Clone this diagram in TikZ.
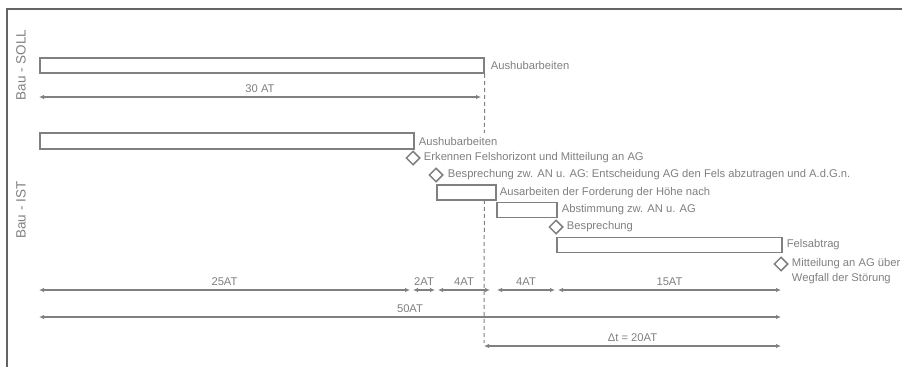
\documentclass[tikz,border=0pt]{standalone}
\usepackage{fontspec}
\setmainfont{Liberation Sans}
\usetikzlibrary{shapes.geometric,arrows.meta,positioning}
\definecolor{plangray}{RGB}{128,128,128}
\definecolor{framegray}{RGB}{100,100,100}
\tikzset{
	barbox/.style={rectangle, draw=plangray, line width=1.6pt, fill=white, inner sep=0pt,
		minimum height=15pt},
	msdiam/.style={diamond, draw=plangray, line width=1.5pt, fill=white, inner sep=0pt,
		minimum width=14pt, minimum height=14pt},
	lbl/.style={text=plangray, font=\fontsize{11.2}{15}\selectfont, inner sep=1pt},
	barlbl/.style={lbl, fill=white, minimum height=17pt},
	axislbl/.style={lbl, rotate=90, font=\fontsize{13.5}{16}\selectfont},
	dimarr/.style={{Latex[length=5pt,width=4.5pt]}-{Latex[length=5pt,width=4.5pt]}, draw=plangray, line width=1.5pt},
	dimlbl/.style={lbl, above=2.5pt}
}

\begin{document}
\begin{tikzpicture}[x=1pt, y=-1pt, node distance=3pt]
			\useasboundingbox (0,0) rectangle (902,367);
			\draw[framegray, line width=2pt] (902,9) -- (7,9) -- (7,367);
			\node[axislbl] (sollaxis) at (21,65) {Bau - SOLL};
			\node[axislbl] (istaxis) at (21,210) {Bau - IST};
			% Soll
			\node[barbox, minimum width=444pt, anchor=west] (sollbar) at (39,65.5) {};
			\node[lbl, right=5pt of sollbar] (solltxt) {Aushubarbeiten};
			\coordinate (s0) at (39,97);
			\coordinate (s1) at (481,97);
			\draw[dimarr] (s0) -- node[dimlbl] {30 AT} (s1);
			\coordinate (dashend) at (484,343);
			\draw[plangray, line width=1pt, dash pattern=on 4pt off 3pt] (sollbar.south east) -- (dashend);
			% Ist
			\node[barbox, minimum width=374pt, minimum height=16pt, anchor=west] (istbar1) at (39,141) {};
			\node[barlbl, right=3pt of istbar1] (ist1txt) {Aushubarbeiten};
			\node[msdiam] (ms1) at (413,158) {};
			\node[barlbl, right=2pt of ms1] (ms1txt) {Erkennen Felshorizont und Mitteilung an AG};
			\node[msdiam] (ms2) at (436,175) {};
			\node[barlbl, right=3pt of ms2] (ms2txt) {Besprechung zw. AN u. AG: Entscheidung AG den Fels abzutragen und A.d.G.n.};
			\node[barbox, minimum width=59pt, anchor=west] (istbar2) at (436,192.5) {};
			\node[barlbl, right=2pt of istbar2] (ist2txt) {Ausarbeiten der Forderung der Höhe nach};
			\node[barbox, minimum width=60pt, anchor=west] (istbar3) at (496,210) {};
			\node[barlbl, right=3pt of istbar3] (ist3txt) {Abstimmung zw. AN u. AG};
			\node[msdiam] (ms3) at (556,227) {};
			\node[barlbl, right=2pt of ms3] (ms3txt) {Besprechung};
			\node[barbox, minimum width=225pt, anchor=west] (istbar4) at (556,245) {};
			\node[barlbl, right=3pt of istbar4] (ist4txt) {Felsabtrag};
			\node[msdiam] (ms4) at (781,264) {};
			\node[lbl, align=left, anchor=north west] (ms4txt) at ([xshift=2pt, yshift=6.5pt]ms4.east) {Mitteilung an AG über\\Wegfall der Störung};
			% Dauer
			\coordinate (d0) at (39,290);
			\coordinate (d1) at (410,290);
			\coordinate (d2) at (413,290);
			\coordinate (d3) at (435,290);
			\coordinate (d4) at (438,290);
			\coordinate (d5) at (490,290);
			\coordinate (d6) at (497,290);
			\coordinate (d7) at (555,290);
			\coordinate (d8) at (558,290);
			\coordinate (d9) at (781,290);
			\draw[dimarr] (d0) -- node[dimlbl] {25AT} (d1);
			\draw[dimarr] (d2) -- node[dimlbl] {2AT} (d3);
			\draw[dimarr] (d4) -- node[dimlbl] {4AT} (d5);
			\draw[dimarr] (d6) -- node[dimlbl] {4AT} (d7);
			\draw[dimarr] (d8) -- node[dimlbl] {15AT} (d9);
			\coordinate (g0) at (39,317);
			\coordinate (g1) at (781,317);
			\draw[dimarr] (g0) -- node[dimlbl] {50AT} (g1);
			\coordinate (t0) at (484,346);
			\coordinate (t1) at (781,346);
			\draw[dimarr] (t0) -- node[dimlbl] {Δt = 20AT} (t1);
		\end{tikzpicture}
\end{document}
